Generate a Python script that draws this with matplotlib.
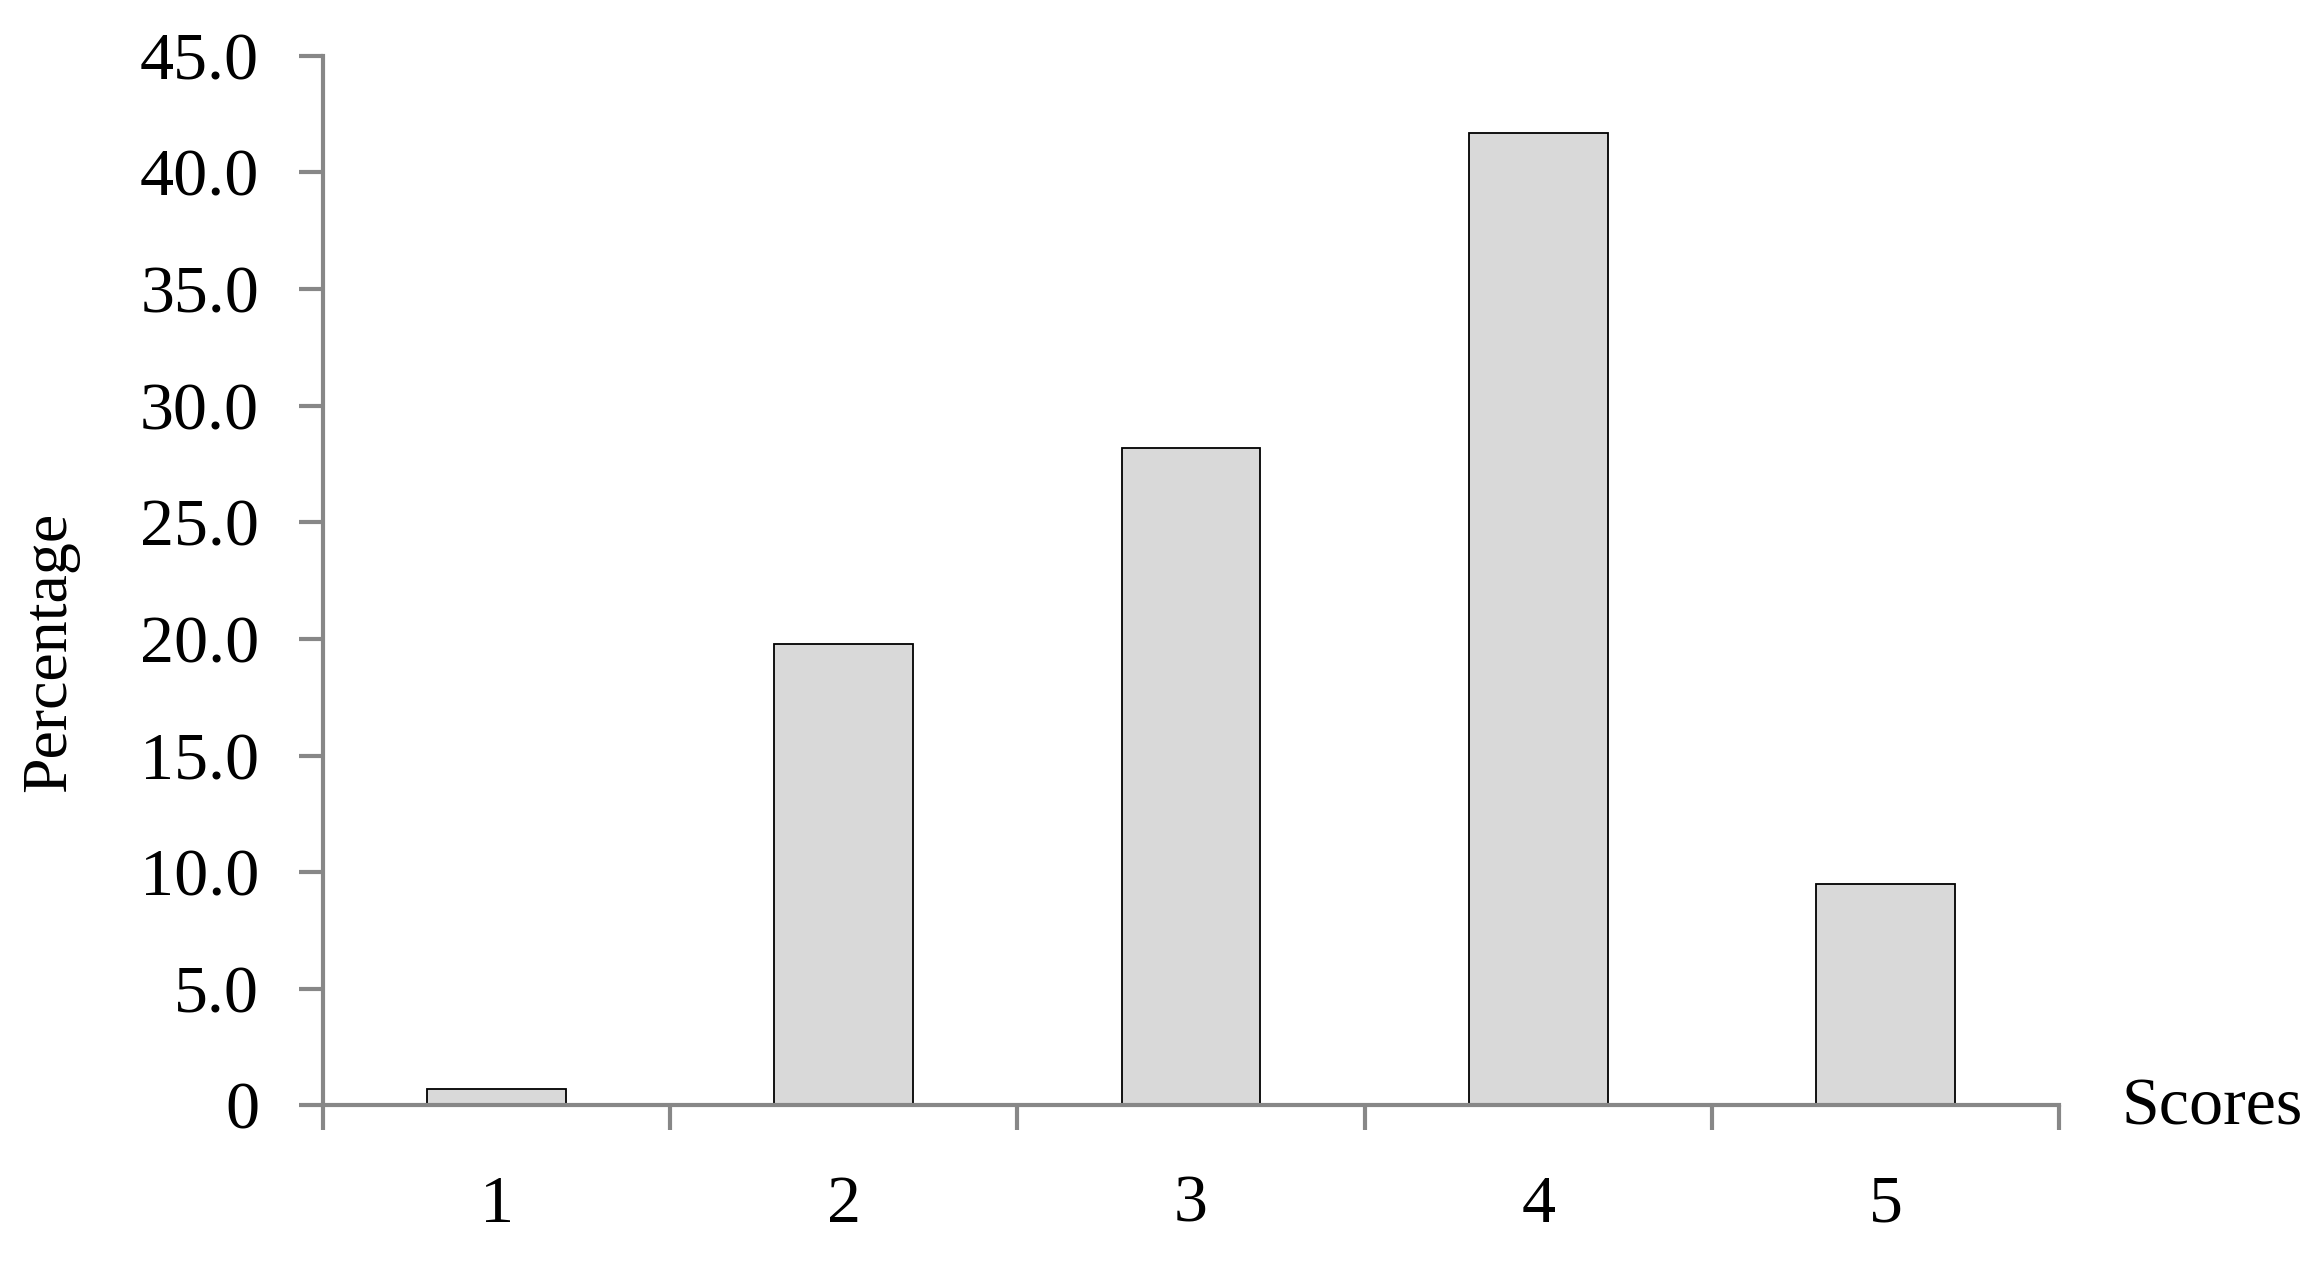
import matplotlib
matplotlib.use("Agg")
import matplotlib.pyplot as plt
from matplotlib.ticker import FixedLocator

categories = ["1", "2", "3", "4", "5"]
percentages = [0.7, 19.8, 28.2, 41.7, 9.5]
yticks = [0, 5, 10, 15, 20, 25, 30, 35, 40, 45]
ytick_labels = ["0", "5.0", "10.0", "15.0", "20.0", "25.0", "30.0", "35.0", "40.0", "45.0"]

plt.rcParams['font.family'] = ['Liberation Serif', 'DejaVu Serif']

fig = plt.figure(figsize=(23.24, 12.66), dpi=100)
ax = fig.add_axes([0.139, 0.1268, 0.886 - 0.139, 0.956 - 0.1268])

x = list(range(len(categories)))
ax.bar(x, percentages, width=0.4, color="#d9d9d9", edgecolor="black", linewidth=1.3, zorder=2)

axis_color = "#878787"
ax.set_xlim(-0.5, len(categories) - 0.5)
ax.set_ylim(0, 45)
for s in ["top", "right"]:
    ax.spines[s].set_visible(False)
for s in ["left", "bottom"]:
    ax.spines[s].set_color(axis_color)
    ax.spines[s].set_linewidth(3.0)
ax.spines["bottom"].set_zorder(3)

ax.set_yticks(yticks)
ax.set_yticklabels(ytick_labels, fontsize=49)
ax.tick_params(axis="y", direction="out", length=17, width=3.0, color=axis_color, pad=29)

ax.set_xticks(x)
ax.set_xticklabels(categories, fontsize=49)
ax.tick_params(axis="x", which="major", length=0, pad=50)
ax.xaxis.set_minor_locator(FixedLocator([i - 0.5 for i in range(len(categories) + 1)]))
ax.tick_params(axis="x", which="minor", direction="out", length=18, width=3.0, color=axis_color)

fig.text(50 / 2324, 1 - 652 / 1266, "Percentage", rotation=90, fontsize=46,
         ha="center", va="center")
fig.text(2212 / 2324, 1 - 1108 / 1266, "Scores", fontsize=49, ha="center", va="center")

fig.savefig("out.png", dpi=100, facecolor="white")
